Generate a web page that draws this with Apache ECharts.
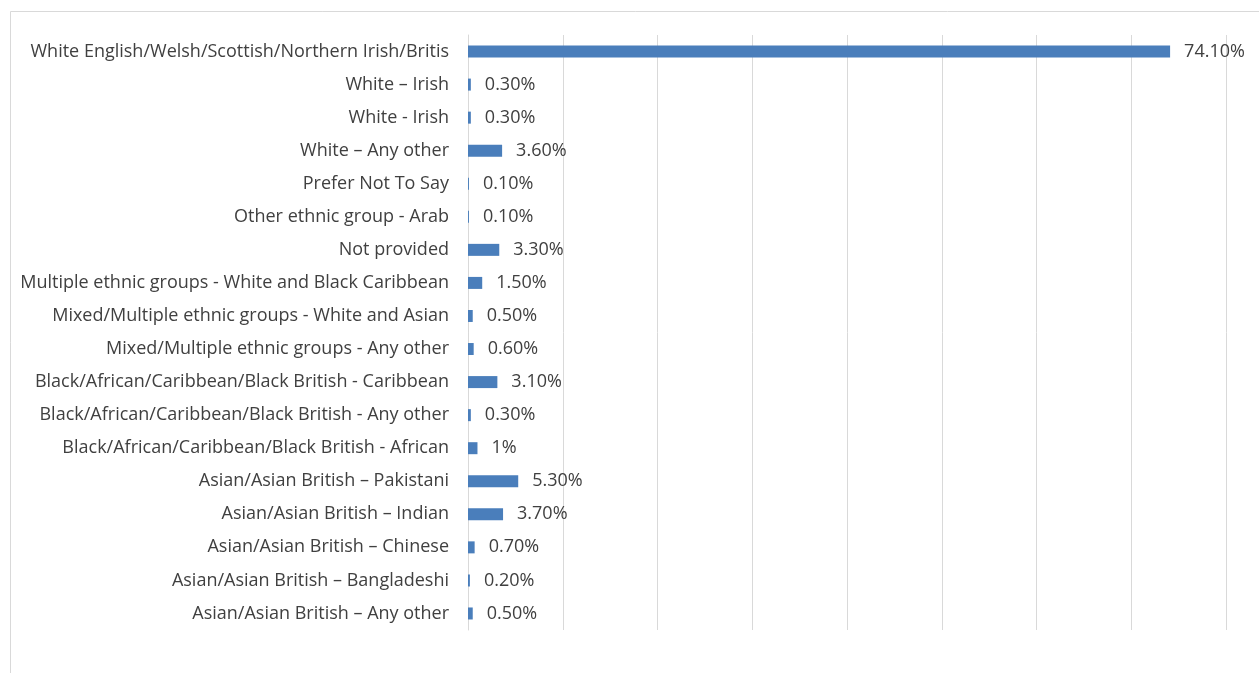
<!DOCTYPE html>
<html>
<head>
<meta charset="utf-8">
<script src="https://cdn.jsdelivr.net/npm/echarts@6/dist/echarts.min.js"></script>
<style>
  html, body { margin: 0; padding: 0; background: #fff; }
  #chart { width: 1259px; height: 673px; }
</style>
</head>
<body>
<div id="chart"></div>
<script>
// Ethnic group breakdown, top row first
const categories = [
  'White English/Welsh/Scottish/Northern Irish/Britis',
  'White – Irish',
  'White - Irish',
  'White – Any other',
  'Prefer Not To Say',
  'Other ethnic group - Arab',
  'Not provided',
  'Multiple ethnic groups - White and Black Caribbean',
  'Mixed/Multiple ethnic groups - White and Asian',
  'Mixed/Multiple ethnic groups - Any other',
  'Black/African/Caribbean/Black British - Caribbean',
  'Black/African/Caribbean/Black British - Any other',
  'Black/African/Caribbean/Black British - African',
  'Asian/Asian British – Pakistani',
  'Asian/Asian British – Indian',
  'Asian/Asian British – Chinese',
  'Asian/Asian British – Bangladeshi',
  'Asian/Asian British – Any other'
];
const values = [74.1, 0.3, 0.3, 3.6, 0.1, 0.1, 3.3, 1.5, 0.5, 0.6, 3.1, 0.3, 1, 5.3, 3.7, 0.7, 0.2, 0.5];
const valueLabels = ['74.10%', '0.30%', '0.30%', '3.60%', '0.10%', '0.10%', '3.30%', '1.50%', '0.50%', '0.60%',
  '3.10%', '0.30%', '1%', '5.30%', '3.70%', '0.70%', '0.20%', '0.50%'];

const font = '"Open Sans", "Liberation Sans", sans-serif';
const chart = echarts.init(document.getElementById('chart'), null, { renderer: 'canvas' });

chart.setOption({
  backgroundColor: '#ffffff',
  animation: false,
  graphic: [{
    type: 'rect',
    shape: { x: 10.5, y: 11.5, width: 1300, height: 700 },
    style: { fill: 'none', stroke: '#d9d9d9', lineWidth: 1 },
    silent: true
  }],
  grid: { left: 468, right: 33, top: 35, bottom: 43, containLabel: false },
  xAxis: {
    type: 'value',
    min: 0, max: 80, interval: 10,
    axisLabel: { show: false },
    axisLine: { show: false },
    axisTick: { show: false },
    splitLine: { show: true, lineStyle: { color: '#d9d9d9', width: 1 } }
  },
  yAxis: {
    type: 'category',
    inverse: true,
    data: categories,
    axisLine: { show: true, lineStyle: { color: '#d9d9d9', width: 1 } },
    axisTick: { show: false },
    axisLabel: { color: '#404040', fontSize: 18, fontFamily: font, margin: 19 }
  },
  series: [{
    type: 'bar',
    data: values,
    barWidth: 12,
    itemStyle: { color: '#4a7ebb' },
    label: {
      show: true,
      position: 'right',
      distance: 14,
      color: '#404040',
      fontSize: 18,
      fontFamily: font,
      formatter: p => valueLabels[p.dataIndex]
    }
  }]
});
</script>
</body>
</html>
